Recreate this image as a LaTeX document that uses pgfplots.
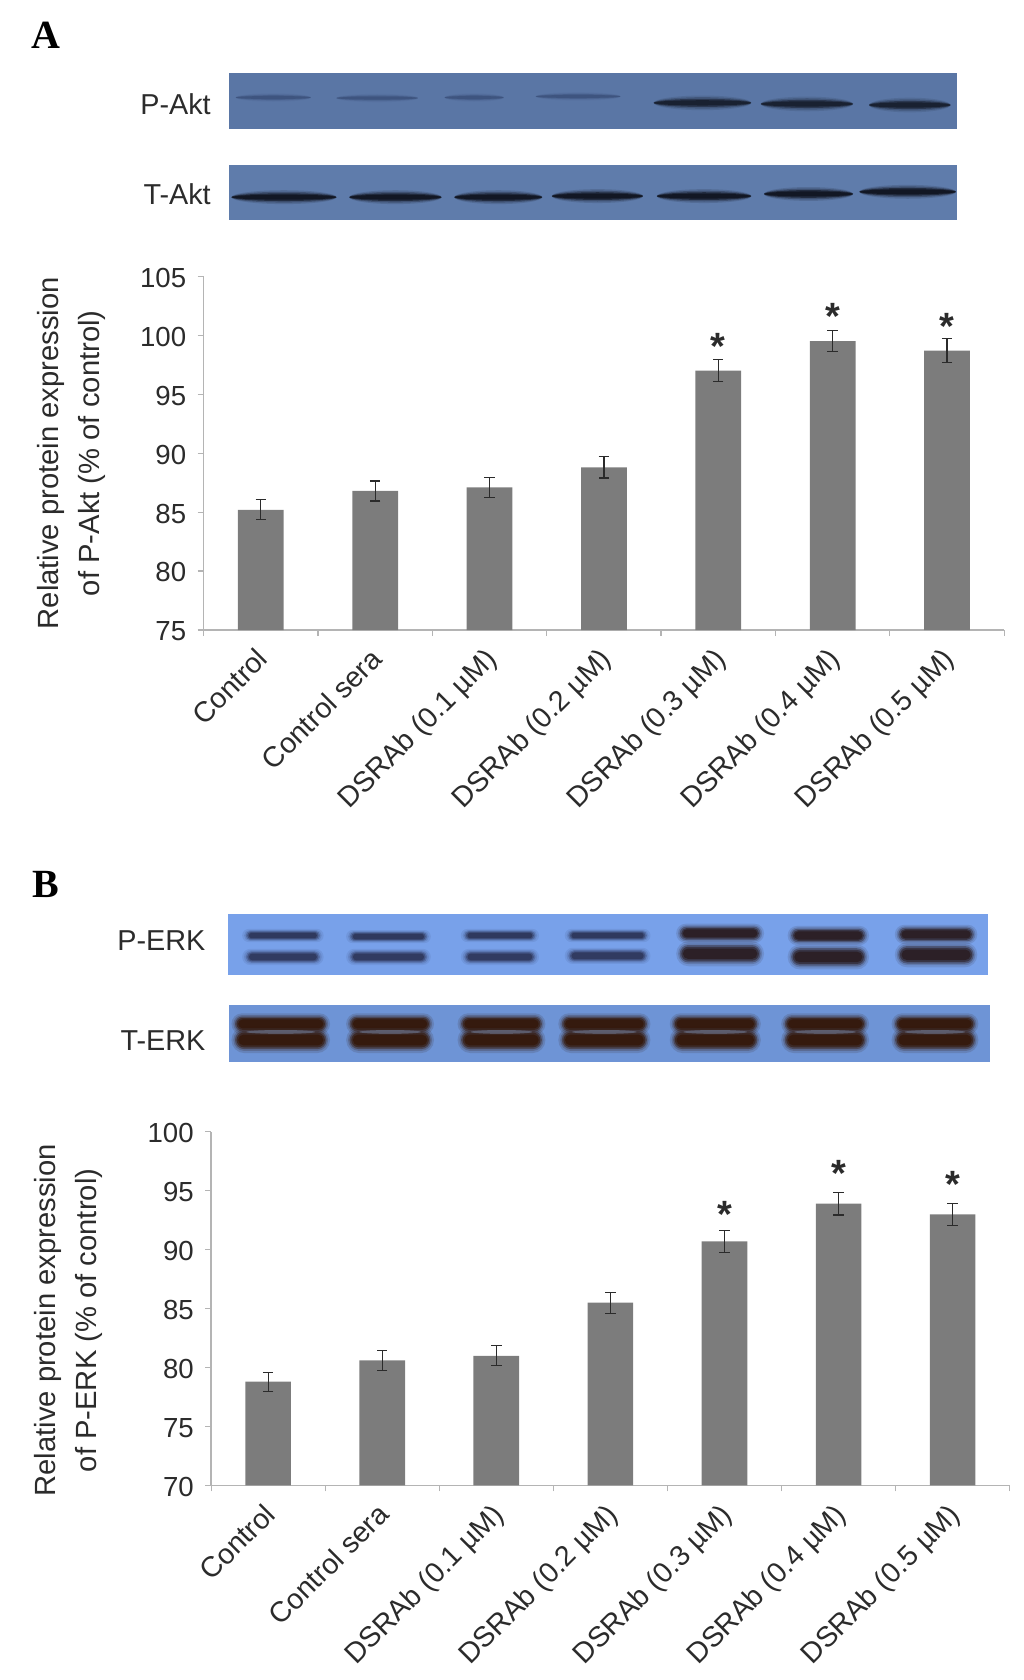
\documentclass[border=0pt]{standalone}
\usepackage{fontspec}
\usepackage{pgfplots}
\pgfplotsset{compat=1.18}
\setmainfont{Liberation Sans}
\newfontfamily\serifbold{Liberation Serif}[BoldFont={Liberation Serif Bold}]

\definecolor{barg}{HTML}{7C7C7C}
\definecolor{axg}{HTML}{B4B4B4}
\definecolor{txt}{HTML}{2B2B2B}
\definecolor{blotA}{HTML}{5A76A5}
\definecolor{blotAT}{HTML}{5F7CAB}
\definecolor{blotB}{HTML}{78A1EA}
\definecolor{blotBT}{HTML}{6E94D6}
\definecolor{faintA}{HTML}{33466E}
\definecolor{darkA}{HTML}{10141F}
\definecolor{darkB}{HTML}{242848}
\definecolor{darkC}{HTML}{2A1C20}
\definecolor{brownB}{HTML}{35190C}
\definecolor{gapB}{HTML}{7F8FAE}

% fuzzy blot band: x1, x2, y, half height, colour, strength
\newcommand{\band}[6]{%
  \foreach \g/\o in {1.8/0.1,1.5/0.15,1.25/0.3,1.0/0.45,0.75/0.65}{%
    \fill[#5,opacity=#6*\o,rounded corners=\g*#4*0.53pt]
      (#1+10.8-6*\g,#3-\g*#4) rectangle (#2-10.8+6*\g,#3+\g*#4);
  }%
}
% tapered band, for the thin Akt lanes
\newcommand{\taper}[6]{%
  \foreach \g/\o in {1.8/0.12,1.4/0.25,1.0/0.5,0.65/0.7}{%
    \fill[#5,opacity=#6*\o] ({(#1+#2)/2},#3) ellipse [x radius={(#2-#1)/2}, y radius={\g*#4}];
  }%
}

\tikzset{
  star/.style={font=\bfseries\fontsize{19}{19}\selectfont,text=txt,inner sep=0pt,yshift=-2.5pt},
  blotlabel/.style={anchor=east,inner sep=0pt,font=\fontsize{14.4}{17}\selectfont,text=txt},
}

\pgfplotsset{
  panel/.style={
    scale only axis,
    anchor=south west,
    height=176.8pt,
    ybar,
    bar width=0.4,
    axis lines*=left,
    axis line style={-,draw=axg,line width=0.7pt},
    xmin=-0.5, xmax=6.5,
    ytick distance=5,
    xtick={0,...,6},
    xticklabels={Control,Control sera,DSRAb (0.1 µM),DSRAb (0.2 µM),DSRAb (0.3 µM),DSRAb (0.4 µM),DSRAb (0.5 µM)},
    minor xtick={-0.5,0.5,...,6.5},
    major x tick style={draw=none},
    minor x tick style={draw=axg,line width=0.6pt},
    y tick style={draw=axg,line width=0.6pt},
    tick align=outside,
    major tick length=3pt,
    minor tick length=3pt,
    /pgf/number format/assume math mode=true,
    yticklabel style={font=\fontsize{13.8}{16}\selectfont,text=txt,inner sep=1pt,xshift=-4.5pt,yshift=-0.7pt},
    xticklabel style={font=\fontsize{14.3}{17}\selectfont,text=txt,rotate=45,anchor=north east,inner sep=1pt,xshift=-4.6pt,yshift=-0.4pt},
    ylabel style={font=\fontsize{14.6}{20.5}\selectfont,text=txt,align=center},
  },
  ebar/.style={
    error bars/.cd, y dir=both, y explicit,
    error bar style={draw=txt,line width=0.6pt},
    error mark options={rotate=90,mark size=2.6pt,draw=txt,line width=0.6pt},
  },
}

\begin{document}
\begin{tikzpicture}[x=0.5358pt,y=-0.5358pt]
\useasboundingbox (0pt,0pt) rectangle (511.5pt,-840pt);

% panel letters
\node[font=\serifbold\bfseries\fontsize{20}{20}\selectfont] at (43,33) {A};
\node[font=\serifbold\bfseries\fontsize{20}{20}\selectfont] at (43,825) {B};

% blot A
\fill[blotA] (214,68) rectangle (893,120);
\foreach \a/\b/\y in {220/290/91,314/390/91.5,415/470/91,500/579/90}{\taper{\a}{\b}{\y}{2.2}{faintA}{0.6}}
\foreach \a/\b/\y in {610/701/96,710/796/97,811/887/98}{\taper{\a}{\b}{\y}{3.8}{darkA}{0.9}}
\node[blotlabel] at (197,97) {P-Akt};
\fill[blotAT] (214,154) rectangle (893,205);
\foreach \a/\b/\y in {216/314/184,326/412/184,424/506/184,515/600/183,613/701/183,713/796/181,802/892/179}{\taper{\a}{\b}{\y}{3.6}{darkA}{1.2}}
\node[blotlabel] at (197,181) {T-Akt};

% blot B
\fill[blotB] (213,853) rectangle (922,910);
\foreach \a/\b/\c/\d in {226/302/873/893,323/402/874/893,430/503/873/893,527/607/873/892}{%
  \band{\a}{\b}{\c}{3.4}{darkB}{0.9}\band{\a}{\b}{\d}{4.2}{darkB}{0.85}}
\foreach \a/\b/\c/\d in {631/713/871/890,735/811/873/893,835/912/872/891}{%
  \band{\a}{\b}{\c}{5}{darkC}{1.25}\band{\a}{\b}{\d}{6.5}{darkC}{1.25}}
\node[blotlabel] at (192,878) {P-ERK};
\fill[blotBT] (214,938) rectangle (924,991);
\foreach \a/\b in {216/308,323/405,427/509,521/607,625/710,729/811,832/913}{%
  \band{\a}{\b}{955.5}{5.5}{brownB}{1.4}\band{\a}{\b}{970.5}{6.8}{brownB}{1.4}%
  \fill[gapB,opacity=0.45] ({(\a+\b)/2},963) ellipse [x radius={(\b-\a)*0.35}, y radius=1.8];}
\node[blotlabel] at (192,971) {T-ERK};

% panel A chart
\begin{axis}[panel,
    at={(101.8pt,-315.0pt)},
    width=400.3pt,
    ymin=75, ymax=105,
    ylabel={Relative protein expression\\of P-Akt (\% of control)},
    ylabel shift=12.7pt,
  ]
  \addplot[fill=barg,draw=none,ebar] coordinates {
    (0,85.2) +- (0,0.85)
    (1,86.8) +- (0,0.85)
    (2,87.1) +- (0,0.85)
    (3,88.8) +- (0,0.9)
    (4,97.0) +- (0,0.95)
    (5,99.5) +- (0,0.9)
    (6,98.7) +- (0,1.0)
  };
  \node[star] at (axis cs:4,99.5) {*};
  \node[star] at (axis cs:5,102.0) {*};
  \node[star] at (axis cs:6,101.2) {*};
\end{axis}

% panel B chart
\begin{axis}[panel,
    at={(105.55pt,-742.7pt)},
    width=399.3pt,
    ymin=70, ymax=100,
    ylabel={Relative protein expression\\of P-ERK (\% of control)},
    ylabel shift=18pt,
    ylabel style={xshift=-5.9pt},
  ]
  \addplot[fill=barg,draw=none,ebar] coordinates {
    (0,78.8) +- (0,0.8)
    (1,80.6) +- (0,0.85)
    (2,81.0) +- (0,0.85)
    (3,85.5) +- (0,0.9)
    (4,90.7) +- (0,0.95)
    (5,93.9) +- (0,0.95)
    (6,93.0) +- (0,0.95)
  };
  \node[star] at (axis cs:4,93.4) {*};
  \node[star] at (axis cs:5,96.9) {*};
  \node[star] at (axis cs:6,96.0) {*};
\end{axis}
\end{tikzpicture}
\end{document}
